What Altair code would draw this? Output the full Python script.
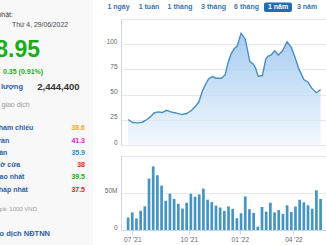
import altair as alt
import pandas as pd

# ---------------- data ----------------
# weekly trading volume (millions of shares), one bar per week
vol_week = list(range(47))
vol_m = [16.8, 23.8, 15.7, 26.0, 32.0, 69.5, 86.0, 74.0, 60.0, 39.5, 49.0, 42.0, 35.4, 29.0,
         36.8, 49.0, 45.0, 48.0, 56.0, 41.0, 37.7, 33.0, 30.4, 25.9, 31.8, 28.6, 15.9, 22.7,
         45.4, 28.1, 23.2, 4.5, 31.1, 24.8, 36.8, 23.8, 26.8, 21.8, 33.3, 24.3, 31.8, 40.9,
         37.4, 33.4, 28.8, 53.7, 42.0]

# closing price (thousand VND), position in weeks
price_w = [0, 1.1, 2.3, 3.4, 4.5, 5.3, 6.2, 7.2, 8.2, 9.1, 10.2, 11.4, 12.9, 14.0, 15.2,
           16.1, 16.9, 17.8, 18.6, 19.2, 20.1, 21.1, 22.3, 23.2, 23.8, 24.6, 25.3, 26.1,
           27.0, 28.0, 29.1, 29.9, 30.4, 31.1, 32.1, 32.9, 33.4, 34.2, 35.0, 35.9, 36.9,
           38.0, 39.0, 39.9, 40.8, 42.0, 43.0, 43.9, 45.0, 46.0]
price_v = [25.3, 22.3, 22.0, 22.6, 25.3, 27.9, 31.8, 32.8, 32.2, 34.4, 32.8, 31.8, 30.2,
           31.2, 34.4, 38.4, 42.6, 54.0, 60.7, 65.6, 67.9, 66.2, 66.2, 69.6, 80.4, 90.2,
           95.2, 98.4, 110.9, 105.0, 82.7, 80.4, 77.0, 68.2, 68.9, 85.3, 87.9, 89.3, 93.5,
           89.3, 93.5, 102.4, 96.8, 86.9, 75.5, 65.0, 62.3, 56.4, 51.9, 55.1]

# x-axis month ticks (week positions) and labels
month_pos = [1.0, 14.5, 26.7, 39.5]
month_lbl = ["07 '21", "10 '21", "01 '22", "04 '22"]

price_ticks = [0, 25, 50, 75, 100, 125]
vol_ticks = [0, 50, 100]

range_buttons = ["1 ngày", "1 tuần", "1 tháng", "3 tháng", "6 tháng", "1 năm", "3 năm"]
active_button = "1 năm"

update_label = "Cập nhật:"
update_date = "Thứ 4, 29/06/2022"
last_price = "38.95"
change_text = "0.35 (0.91%)"
volume_label = "Khối lượng"
volume_value = "2,444,400"
sub_label = "giao dịch"
row_labels = ["Tham chiếu", "Trần", "Sàn", "Mở cửa", "Cao nhất", "Thấp nhất"]
row_values = ["38.6", "41.3", "35.9", "38", "39.5", "37.5"]
unit_note = "Đơn vị giá: 1000 VND"
foreign_label = "Giao dịch NĐTNN"

# ---------------- styling ----------------
FONT = "Liberation Sans"
W, H = 205, 211
OX, OY = 121, 19          # page offset of plot origin
LINE = "#4a8dc4"
BAR = "#4595c0"
GRID = "#e8e8e8"
AXIS = "#ccd6eb"
LBL = "#2c5fa3"
row_colors = ["#f5a623", "#e31ae3", "#2493c9", "#e8202a", "#1aad19", "#e8202a"]
GREEN = "#1aad19"

price_df = pd.DataFrame({"w": price_w, "p": price_v})
vol_df = pd.DataFrame({"w": vol_week, "v": vol_m})

xscale = alt.Scale(domain=[-0.5, 46.1], nice=False, zero=False)

expr = '""'
for p, l in reversed(list(zip(month_pos, month_lbl))):
    expr = f'datum.value == {p} ? "{l}" : ({expr})'

x_axis = alt.Axis(values=month_pos, labelExpr=expr, grid=False, domain=True,
                  domainColor=AXIS, tickColor=AXIS, tickSize=4, labelPadding=2,
                  labelFontSize=6.5, labelColor="#666", labelFont=FONT, title=None,
                  labelFlush=False)

price_axis = alt.Axis(orient="left", values=price_ticks,
                      labelExpr='datum.value == 125 ? "" : datum.label', format="d",
                      grid=True, gridColor=GRID, domain=True, domainColor=AXIS,
                      ticks=False, labelPadding=4, labelOffset=-3, labelFontSize=6.5,
                      labelColor="#666", labelFont=FONT, title=None)
vol_axis = alt.Axis(orient="left", values=vol_ticks,
                    labelExpr='datum.value == 0 ? "0" : (datum.value == 50 ? "50M" : "")',
                    grid=True, gridColor=GRID, domain=True, domainColor=AXIS,
                    ticks=False, labelPadding=4, labelOffset=-3, labelFontSize=6.5,
                    labelColor="#666", labelFont=FONT, title=None)

area = alt.Chart(price_df).mark_area(
    line={"color": LINE, "strokeWidth": 1.4},
    color=alt.Gradient(gradient="linear",
                       stops=[alt.GradientStop(color="#eef6fd", offset=0),
                              alt.GradientStop(color="#7fb6ea", offset=1)],
                       x1=1, x2=1, y1=1, y2=0),
    clip=True,
).encode(
    x=alt.X("w:Q", scale=xscale, axis=x_axis),
    y=alt.Y("p:Q", scale=alt.Scale(domain=[0, 125], range=[126, 0], nice=False), axis=price_axis),
)

bars = alt.Chart(vol_df).mark_bar(size=2.7, color=BAR).encode(
    x=alt.X("w:Q", scale=xscale, axis=x_axis),
    y=alt.Y("v:Q", scale=alt.Scale(domain=[0, 100], range=[211, 137], nice=False), axis=vol_axis),
)

dummy = pd.DataFrame({"a": [0]})


def txt(s, px, py, size=7, color="#333", align="left", weight="normal"):
    return alt.Chart(pd.DataFrame({"t": [s]})).mark_text(
        align=align, baseline="middle", fontSize=size, color=color, fontWeight=weight, font=FONT
    ).encode(text="t:N", x=alt.value(px - OX), y=alt.value(py - OY))


layers = []
# left panel background
layers.append(alt.Chart(dummy).mark_rect(color="#f8f8f8").encode(
    x=alt.value(-OX), x2=alt.value(93 - OX), y=alt.value(-OY), y2=alt.value(245 - OY)))

layers += [area, bars]

# range buttons
btn_x = [118.5, 149, 180, 213.5, 246.5, 278, 307]
for b, bx in zip(range_buttons, btn_x):
    if b == active_button:
        layers.append(alt.Chart(dummy).mark_rect(color="#1f6db5", cornerRadius=2).encode(
            x=alt.value(264 - OX), x2=alt.value(292 - OX), y=alt.value(2.5 - OY), y2=alt.value(12 - OY)))
        layers.append(txt(b, bx, 7.3, 7, "white", "center", "bold"))
    else:
        layers.append(txt(b, bx, 7.3, 7, "#3a74b5", "center", "bold"))

# left info panel
layers.append(txt(update_label, 13, 15, 7, "#444", "right"))
layers.append(txt(update_date, 12, 25, 6.8, "#444", "left"))
layers.append(txt(last_price, 40, 50, 23, GREEN, "right", "bold"))
layers.append(txt(change_text, 3, 72, 7, GREEN, "left", "bold"))
layers.append(txt(volume_label, 23, 87, 7.5, LBL, "right", "bold"))
layers.append(txt(volume_value, 79.5, 87, 9.5, "#333", "right", "bold"))
layers.append(txt(sub_label, 1.5, 104.5, 7, "#999", "left"))
row_y = [128.3, 140.7, 152.7, 165, 177.3, 190]
for lab, val, col, ry in zip(row_labels, row_values, row_colors, row_y):
    layers.append(txt(lab, -5.5, ry, 7, LBL, "left", "bold"))
    layers.append(txt(val, 85, ry, 7, col, "right", "bold"))
layers.append(txt(unit_note, 37, 208.5, 6, "#999", "right"))
layers.append(txt(foreign_label, 50, 233.5, 7.5, LBL, "right", "bold"))

chart = alt.layer(*layers).resolve_scale(y="independent").properties(
    width=W, height=H,
    padding={"left": OX, "top": OY, "right": 0, "bottom": 245 - OY - H},
    autosize=alt.AutoSizeParams(type="none"),
    background="white",
).configure_view(stroke=None)

chart.save("out.html", embed_options={"renderer": "svg", "actions": False})
